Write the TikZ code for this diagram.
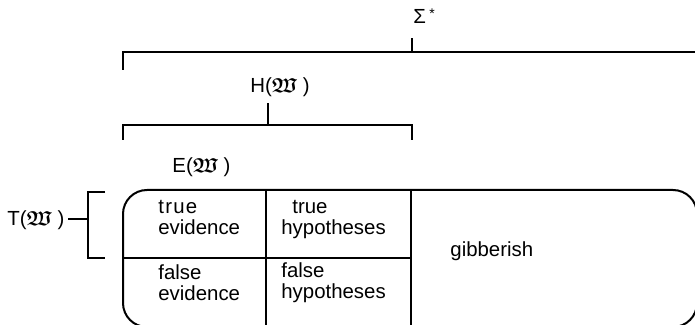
\documentclass[tikz,border=0pt]{standalone}
\usepackage{fontspec}
\setmainfont{Liberation Sans}
\usepackage{amssymb}
\newcommand{\fw}{{\boldmath$\mathfrak{W}$}}
\begin{document}
\begin{tikzpicture}[x=0.5pt,y=-0.5pt,
  line/.style={line width=1pt},
  lbl/.style={inner sep=0pt,font=\fontsize{10.2}{10.5}\selectfont},
  cell/.style={inner sep=0pt,align=left,anchor=north west,font=\fontsize{10.2}{10.7}\selectfont}]
\clip (0,0) rectangle (695,325);
% labels
\node[lbl,anchor=base west] (sigma) at (413,24) {Σ\,\raisebox{0.5ex}{\scriptsize *}};
\node[lbl,anchor=base west] (hw) at (250,93) {H(\fw\ )};
\node[lbl,anchor=base west] (ew) at (172,173) {E(\fw\ )};
\node[lbl,anchor=base west] (tw) at (7,226) {T(\fw\ )};
% cells
\node[cell] (te) at (158,200) {t\kern0.6pt r\kern0.6pt u\kern0.6pt e\\evidence};
\node[cell] (th) at (281,200) {\hspace*{5.5pt}true\\hypotheses};
\node[cell] (fe) at (158,264) {false\\evidence};
\node[cell] (fh) at (281,262) {false\\hypotheses};
\node[lbl,anchor=base west] (gib) at (450,257) {gibberish};
% coordinates
\coordinate (s0) at (123,70);
\coordinate (s1) at (123,52);
\coordinate (s2) at (700,52);
\coordinate (sm) at (412,52);
\coordinate (st) at (412,38);
\coordinate (h0) at (123,140);
\coordinate (h1) at (123,125);
\coordinate (h2) at (412,125);
\coordinate (h3) at (412,140);
\coordinate (hm) at (268,125);
\coordinate (ht) at (268,103);
\coordinate (t0) at (105,192);
\coordinate (t1) at (88,192);
\coordinate (t2) at (88,258);
\coordinate (t3) at (105,258);
\coordinate (tm) at (88,219);
\coordinate (tl) at (68,219);
% brackets
\draw[line] (s0) -- (s1) -- (s2);
\draw[line] (sm) -- (st);
\draw[line] (h0) -- (h1) -- (h2) -- (h3);
\draw[line] (hm) -- (ht);
\draw[line] (t0) -- (t1) -- (t2) -- (t3);
\draw[line] (tl) -- (tm);
% box
\draw[line,rounded corners=12pt] (123,258) -- (123,190) -- (697,190) -- (697,327) -- (123,327) -- cycle;
\draw[line] (266,190) -- (266,330);
\draw[line] (411,190) -- (411,330);
\draw[line] (123,258) -- (411,258);
\end{tikzpicture}
\end{document}
